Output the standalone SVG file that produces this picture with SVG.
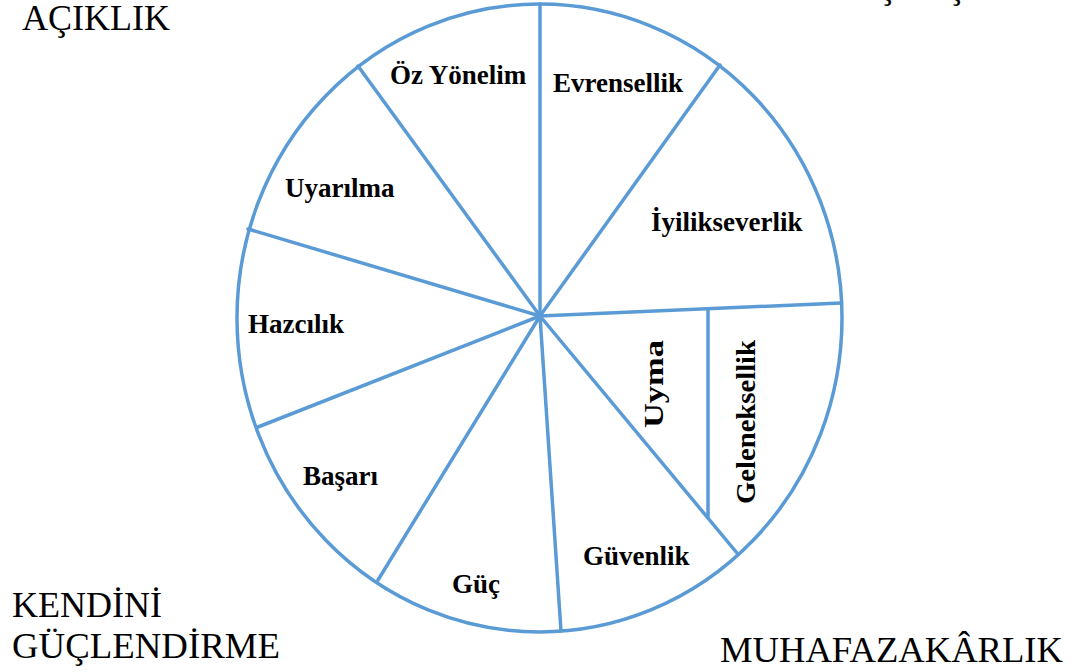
<svg xmlns="http://www.w3.org/2000/svg" width="1079" height="672" viewBox="0 0 1079 672">
  <style>
    .ring { fill: none; stroke: #5B9BD5; stroke-width: 3.5; }
    .spoke { stroke: #5B9BD5; stroke-width: 3.5; stroke-linecap: round; }
    .lbl { font-family: "Liberation Serif", "Times New Roman", serif; font-weight: bold; font-size: 27px; fill: #000; }
    .grp { font-family: "Liberation Serif", "Times New Roman", serif; font-size: 35px; fill: #000; }
  </style>
  <rect width="1079" height="672" fill="#fff"/>

  <!-- outer ring of the value wheel -->
  <ellipse id="wheel" class="ring" cx="539.5" cy="318" rx="302.5" ry="314"/>

  <!-- dividing lines from the hub -->
  <g id="connectors">
    <line class="spoke" x1="540" y1="316" x2="540" y2="4"/>
    <line class="spoke" x1="540" y1="316" x2="358" y2="66"/>
    <line class="spoke" x1="540" y1="316" x2="720" y2="65"/>
    <line class="spoke" x1="540" y1="316" x2="248" y2="229"/>
    <line class="spoke" x1="540" y1="316" x2="841" y2="303"/>
    <line class="spoke" x1="540" y1="316" x2="258" y2="427"/>
    <line class="spoke" x1="540" y1="316" x2="378" y2="580"/>
    <line class="spoke" x1="540" y1="316" x2="561" y2="631"/>
    <line class="spoke" x1="540" y1="316" x2="737" y2="553"/>
    <line class="spoke" x1="708" y1="309" x2="708" y2="518"/>
  </g>

  <!-- value segments -->
  <g id="oz-yonelim"><text class="lbl" x="390" y="84">Öz Yönelim</text></g>
  <g id="evrensellik"><text class="lbl" x="553" y="92">Evrensellik</text></g>
  <g id="uyarilma"><text class="lbl" x="285" y="197">Uyarılma</text></g>
  <g id="iyilikseverlik"><text class="lbl" x="651" y="231">İyilikseverlik</text></g>
  <g id="hazcilik"><text class="lbl" x="248" y="333">Hazcılık</text></g>
  <g id="basari"><text class="lbl" x="303" y="485">Başarı</text></g>
  <g id="guc"><text class="lbl" x="452" y="593">Güç</text></g>
  <g id="guvenlik"><text class="lbl" x="583" y="565">Güvenlik</text></g>
  <g id="uyma"><text class="lbl" transform="translate(663,384) rotate(-90)" text-anchor="middle" font-size="30" textLength="88" lengthAdjust="spacingAndGlyphs">Uyma</text></g>
  <g id="geleneksellik"><text class="lbl" transform="translate(755,422) rotate(-90)" text-anchor="middle" textLength="164" lengthAdjust="spacingAndGlyphs">Geleneksellik</text></g>

  <!-- higher-order dimensions -->
  <g id="aciklik"><text class="grp" x="22" y="30" textLength="148" lengthAdjust="spacingAndGlyphs">AÇIKLIK</text></g>
  <g id="kendini-guclendirme">
    <text class="grp" x="12" y="617" textLength="150" lengthAdjust="spacingAndGlyphs">KENDİNİ</text>
    <text class="grp" x="12" y="658" textLength="268" lengthAdjust="spacingAndGlyphs">GÜÇLENDİRME</text>
  </g>
  <g id="muhafazakarlik"><text class="grp" x="720" y="662" textLength="343" lengthAdjust="spacingAndGlyphs">MUHAFAZAKÂRLIK</text></g>
  <g id="ust-sag">
    <text class="grp" x="888" y="-2" text-anchor="middle">Ş</text>
    <text class="grp" x="957" y="-2" text-anchor="middle">Ş</text>
  </g>
</svg>
